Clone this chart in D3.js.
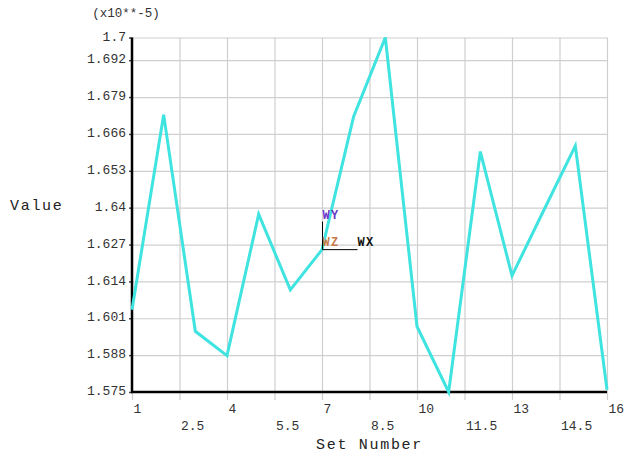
<!DOCTYPE html>
<html>
<head>
<meta charset="utf-8">
<script src="https://cdn.jsdelivr.net/npm/d3@7"></script>
<style>
  html, body { margin: 0; padding: 0; background: #ffffff; }
  svg { display: block; }
  text { font-family: "Liberation Mono", "Courier New", monospace; }
</style>
</head>
<body>
<svg id="chart" width="624" height="456"></svg>
<script>
// Result value per load set (scaled by 1e-5)
const setNumbers = [1, 2, 3, 4, 5, 6, 7, 8, 9, 10, 11, 12, 13, 14, 15, 16];
const values = [1.604, 1.6728, 1.5964, 1.5878, 1.6377, 1.611, 1.6252, 1.6722,
                1.7, 1.5981, 1.575, 1.6598, 1.616, 1.639, 1.6618, 1.5758];

// Axis tick positions and their printed labels
const xTicks = [1, 2.5, 4, 5.5, 7, 8.5, 10, 11.5, 13, 14.5, 16];
const xTickLabels = ["1", "2.5", "4", "5.5", "7", "8.5", "10", "11.5", "13", "14.5", "16"];
const yTicks = [1.575, 1.588, 1.601, 1.614, 1.627, 1.64, 1.653, 1.666, 1.679, 1.692, 1.7];
const yTickLabels = ["1.575", "1.588", "1.601", "1.614", "1.627", "1.64", "1.653", "1.666", "1.679", "1.692", "1.7"];

const svg = d3.select("#chart");
const plotLeft = 132, plotRight = 607, plotTop = 37.5, plotBottom = 392;

const x = d3.scaleLinear().domain([1, 16]).range([plotLeft, plotRight]);
const y = d3.scaleLinear().domain([1.575, 1.7]).range([plotBottom, plotTop]);

// Vertical grid lines (extend a little below the axis as tick marks)
const xGrid = svg.append("g")
  .attr("transform", `translate(0,${plotBottom + 8})`)
  .call(d3.axisBottom(x).tickValues(xTicks).tickSize(-(plotBottom + 8 - plotTop)).tickFormat(""));
xGrid.select(".domain").remove();
xGrid.selectAll(".tick line").attr("stroke", "#cfcfcf").attr("stroke-width", 1.2);

// Horizontal grid lines
const yGrid = svg.append("g")
  .attr("transform", `translate(${plotLeft},0)`)
  .call(d3.axisLeft(y).tickValues(yTicks).tickSize(-(plotRight - plotLeft)).tickFormat(""));
yGrid.select(".domain").remove();
yGrid.selectAll(".tick line").attr("stroke", "#cfcfcf").attr("stroke-width", 1.2);

// Y axis with labels
const yAxis = svg.append("g")
  .attr("transform", `translate(${plotLeft},0)`)
  .call(d3.axisLeft(y).tickValues(yTicks).tickSize(3).tickPadding(3)
    .tickFormat((d, i) => yTickLabels[i]));
yAxis.select(".domain").remove();
yAxis.selectAll(".tick line").attr("stroke", "#444").attr("stroke-width", 1.5);
yAxis.selectAll(".tick text")
  .attr("font-family", "Liberation Mono, monospace")
  .attr("font-size", 13).attr("fill", "#333").attr("dy", "0.2em");

// X axis labels, alternating between two rows
const xAxis = svg.append("g")
  .attr("transform", `translate(0,${plotBottom})`)
  .call(d3.axisBottom(x).tickValues(xTicks).tickSize(0)
    .tickFormat((d, i) => xTickLabels[i]));
xAxis.select(".domain").remove();
xAxis.selectAll(".tick text")
  .attr("font-family", "Liberation Mono, monospace")
  .attr("font-size", 13).attr("fill", "#333")
  .attr("text-anchor", "start")
  .attr("x", 1)
  .attr("y", (d, i) => i % 2 === 0 ? 21 : 38)
  .attr("dy", 0);

// Main axis lines
svg.append("line").attr("x1", plotLeft).attr("x2", plotLeft).attr("y1", plotTop).attr("y2", plotBottom + 1)
  .attr("stroke", "#000").attr("stroke-width", 2.5);
svg.append("line").attr("x1", plotLeft - 1).attr("x2", plotRight).attr("y1", plotBottom).attr("y2", plotBottom)
  .attr("stroke", "#000").attr("stroke-width", 2.5);

// Data line
const line = d3.line().x((d, i) => x(setNumbers[i])).y(d => y(d));
svg.append("path")
  .datum(values)
  .attr("d", line)
  .attr("fill", "none")
  .attr("stroke", "#3fe3e0")
  .attr("stroke-width", 3)
  .attr("stroke-linejoin", "miter");

// Titles
svg.append("text").attr("x", 126).attr("y", 16.5).attr("text-anchor", "middle")
  .attr("font-size", 12.5).attr("fill", "#333").text("(x10**-5)");
svg.append("text").attr("x", 10).attr("y", 210).attr("font-size", 15)
  .attr("letter-spacing", 1.7).attr("fill", "#222").text("Value");
svg.append("text").attr("x", (plotLeft + plotRight) / 2).attr("y", 449).attr("text-anchor", "middle")
  .attr("font-size", 15).attr("letter-spacing", 1.7).attr("fill", "#222").text("Set Number");

// Working-plane triad at the centre of the plot
const tx = x(7) + 0.5, ty = y(1.6252);
svg.append("line").attr("x1", tx).attr("x2", tx).attr("y1", ty - 28).attr("y2", ty)
  .attr("stroke", "#000").attr("stroke-width", 1);
svg.append("line").attr("x1", tx).attr("x2", tx + 35).attr("y1", ty).attr("y2", ty)
  .attr("stroke", "#000").attr("stroke-width", 1);
const triad = [
  { t: "WY", dx: 0, dy: -31, c: "#6b35c8" },
  { t: "WZ", dx: 0, dy: -4, c: "#c77a45" },
  { t: "WX", dx: 35, dy: -4, c: "#111" }
];
svg.selectAll(".triad").data(triad).enter().append("text")
  .attr("class", "triad")
  .attr("x", d => tx + d.dx).attr("y", d => ty + d.dy)
  .attr("font-size", 12).attr("font-weight", "bold").attr("letter-spacing", 1.4)
  .attr("fill", d => d.c).text(d => d.t);
</script>
</body>
</html>
